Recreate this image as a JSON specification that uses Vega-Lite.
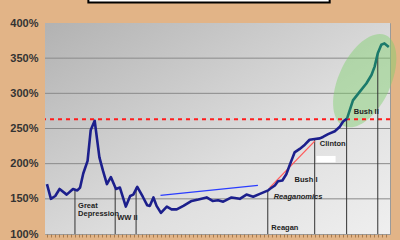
{
  "$schema": "https://vega.github.io/schema/vega-lite/v6.json",
  "width": 345,
  "height": 211,
  "autosize": {"type": "none"},
  "padding": {"left": 45, "top": 23, "right": 10, "bottom": 6},
  "background": "#e2b487",
  "config": {
    "view": {"stroke": "#9a9a9a", "strokeWidth": 1},
    "text": {"font": "Liberation Sans"}
  },
  "datasets": {
    "debt": [
      {"year": 1925.0, "value": 171, "era": "pre"},
      {"year": 1926.0, "value": 150, "era": "pre"},
      {"year": 1927.1, "value": 154, "era": "pre"},
      {"year": 1928.2, "value": 164, "era": "pre"},
      {"year": 1930.0, "value": 156, "era": "pre"},
      {"year": 1931.6, "value": 164, "era": "pre"},
      {"year": 1932.7, "value": 162, "era": "pre"},
      {"year": 1933.4, "value": 166, "era": "pre"},
      {"year": 1934.2, "value": 186, "era": "pre"},
      {"year": 1935.3, "value": 204, "era": "pre"},
      {"year": 1936.1, "value": 248, "era": "pre"},
      {"year": 1937.1, "value": 261, "era": "pre"},
      {"year": 1938.3, "value": 209, "era": "pre"},
      {"year": 1939.2, "value": 190, "era": "pre"},
      {"year": 1940.2, "value": 171, "era": "pre"},
      {"year": 1941.2, "value": 181, "era": "pre"},
      {"year": 1942.5, "value": 164, "era": "pre"},
      {"year": 1943.5, "value": 166, "era": "pre"},
      {"year": 1945.0, "value": 139, "era": "pre"},
      {"year": 1946.1, "value": 154, "era": "pre"},
      {"year": 1946.9, "value": 156, "era": "pre"},
      {"year": 1947.9, "value": 167, "era": "pre"},
      {"year": 1949.3, "value": 153, "era": "pre"},
      {"year": 1950.4, "value": 141, "era": "pre"},
      {"year": 1951.1, "value": 140, "era": "pre"},
      {"year": 1952.0, "value": 152, "era": "pre"},
      {"year": 1952.8, "value": 140, "era": "pre"},
      {"year": 1953.9, "value": 130, "era": "pre"},
      {"year": 1955.4, "value": 139, "era": "pre"},
      {"year": 1956.6, "value": 135, "era": "pre"},
      {"year": 1957.9, "value": 135, "era": "pre"},
      {"year": 1959.6, "value": 140, "era": "pre"},
      {"year": 1961.7, "value": 147, "era": "pre"},
      {"year": 1963.4, "value": 149, "era": "pre"},
      {"year": 1965.5, "value": 152, "era": "pre"},
      {"year": 1967.0, "value": 147, "era": "pre"},
      {"year": 1968.4, "value": 148, "era": "pre"},
      {"year": 1969.7, "value": 146, "era": "pre"},
      {"year": 1971.8, "value": 152, "era": "pre"},
      {"year": 1973.9, "value": 150, "era": "pre"},
      {"year": 1975.6, "value": 156, "era": "pre"},
      {"year": 1977.3, "value": 153, "era": "pre"},
      {"year": 1979.0, "value": 157, "era": "pre"},
      {"year": 1981.1, "value": 162, "era": "pre"},
      {"year": 1981.5, "value": 164, "era": "pre"},
      {"year": 1982.8, "value": 169, "era": "pre"},
      {"year": 1983.6, "value": 175, "era": "pre"},
      {"year": 1984.7, "value": 176, "era": "pre"},
      {"year": 1985.7, "value": 185, "era": "pre"},
      {"year": 1986.7, "value": 200, "era": "pre"},
      {"year": 1987.8, "value": 216, "era": "pre"},
      {"year": 1989.1, "value": 221, "era": "pre"},
      {"year": 1990.4, "value": 227, "era": "pre"},
      {"year": 1991.6, "value": 234, "era": "pre"},
      {"year": 1992.9, "value": 235, "era": "pre"},
      {"year": 1994.2, "value": 236, "era": "pre"},
      {"year": 1995.0, "value": 238, "era": "pre"},
      {"year": 1996.3, "value": 242, "era": "pre"},
      {"year": 1998.0, "value": 246, "era": "pre"},
      {"year": 1999.2, "value": 252, "era": "pre"},
      {"year": 2000.1, "value": 260, "era": "pre"},
      {"year": 2001.1, "value": 264, "era": "pre"},
      {"year": 2001.1, "value": 264, "era": "bush2"},
      {"year": 2002.6, "value": 290, "era": "bush2"},
      {"year": 2004.3, "value": 302, "era": "bush2"},
      {"year": 2006.0, "value": 314, "era": "bush2"},
      {"year": 2007.3, "value": 326, "era": "bush2"},
      {"year": 2008.1, "value": 338, "era": "bush2"},
      {"year": 2008.9, "value": 357, "era": "bush2"},
      {"year": 2009.8, "value": 369, "era": "bush2"},
      {"year": 2010.6, "value": 371, "era": "bush2"},
      {"year": 2011.7, "value": 366, "era": "bush2"}
    ],
    "markers": [
      {"year": 1932.1, "base": 100, "top": 163},
      {"year": 1942.3, "base": 100, "top": 165},
      {"year": 1947.6, "base": 100, "top": 166},
      {"year": 1981.0, "base": 100, "top": 162},
      {"year": 1992.9, "base": 100, "top": 235},
      {"year": 2001.0, "base": 100, "top": 264},
      {"year": 2008.9, "base": 100, "top": 357}
    ],
    "trend": [
      {"year": 1953.8, "value": 155, "line": "postwar"},
      {"year": 1978.5, "value": 169, "line": "postwar"},
      {"year": 1981.5, "value": 166, "line": "reaganomics"},
      {"year": 1992.9, "value": 232, "line": "reaganomics"}
    ],
    "labels": [
      {"year": 1932.9, "value": 140, "text": "Great"},
      {"year": 1932.9, "value": 129, "text": "Depression"},
      {"year": 1942.8, "value": 123, "text": "WW II"},
      {"year": 1981.9, "value": 109, "text": "Reagan"},
      {"year": 1987.8, "value": 177, "text": "Bush I"},
      {"year": 1994.2, "value": 228, "text": "Clinton"},
      {"year": 2002.8, "value": 273, "text": "Bush II"}
    ],
    "italicLabels": [
      {"year": 1982.5, "value": 153, "text": "Reaganomics"}
    ],
    "grid": [{"y": 150}, {"y": 200}, {"y": 250}, {"y": 300}, {"y": 350}]
  },
  "encoding": {
    "x": {"field": "year", "type": "quantitative", "scale": {"domain": [1924.5, 2012], "nice": false, "zero": false},
      "axis": {"title": null, "labels": false, "domain": false, "grid": false, "values": [1925, 1926, 1927, 1928, 1929, 1930, 1931, 1932, 1933, 1934, 1935, 1936, 1937, 1938, 1939, 1940, 1941, 1942, 1943, 1944, 1945, 1946, 1947, 1948, 1949, 1950, 1951, 1952, 1953, 1954, 1955, 1956, 1957, 1958, 1959, 1960, 1961, 1962, 1963, 1964, 1965, 1966, 1967, 1968, 1969, 1970, 1971, 1972, 1973, 1974, 1975, 1976, 1977, 1978, 1979, 1980, 1981, 1982, 1983, 1984, 1985, 1986, 1987, 1988, 1989, 1990, 1991, 1992, 1993, 1994, 1995, 1996, 1997, 1998, 1999, 2000, 2001, 2002, 2003, 2004, 2005, 2006, 2007, 2008, 2009, 2010, 2011], "tickColor": "#a87a4c", "tickSize": 3, "tickWidth": 1, "offset": 0}},
    "y": {"field": "value", "type": "quantitative", "scale": {"domain": [100, 400], "nice": false, "zero": false},
      "axis": {"title": null, "values": [100, 150, 200, 250, 300, 350, 400], "labelExpr": "datum.value + '%'", "labelFont": "Liberation Sans", "labelFontWeight": "bold", "labelFontSize": 11, "labelColor": "#333333", "ticks": false, "domain": false, "grid": false, "labelPadding": 7}}
  },
  "layer": [
    {
      "data": {"values": [{"year": 1924.5, "yearEnd": 2012, "value": 100, "valueEnd": 400}]},
      "mark": {"type": "rect", "fill": {"gradient": "linear", "x1": 0, "y1": 0, "x2": 1, "y2": 1,
        "stops": [{"offset": 0, "color": "#b2b2b2"}, {"offset": 0.6, "color": "#dedede"}, {"offset": 1, "color": "#efefef"}]}},
      "encoding": {"x2": {"field": "yearEnd"}, "y2": {"field": "valueEnd"}}
    },
    {
      "data": {"name": "grid"},
      "mark": {"type": "rule", "color": "#8a8a8a", "strokeWidth": 1},
      "encoding": {"x": null, "y": {"field": "y", "type": "quantitative"}}
    },
    {
      "data": {"values": [{"year": 2005.6, "value": 318}]},
      "mark": {"type": "point", "filled": true, "shape": "M0,-1A0.52,1,0,1,1,0,1A0.52,1,0,1,1,0,-1Z", "size": 10000, "angle": 25, "color": "#7fd06c", "opacity": 0.45, "clip": false}
    },
    {
      "data": {"values": [{"y": 263}]},
      "mark": {"type": "rule", "color": "#ff1a1a", "strokeWidth": 2, "strokeDash": [4, 4]},
      "encoding": {"x": null, "y": {"field": "y", "type": "quantitative"}}
    },
    {
      "data": {"values": [{"year": 1935.5, "yearEnd": 1996.7, "value": 429, "valueEnd": 470}]},
      "mark": {"type": "rect", "fill": "white", "stroke": "black", "strokeWidth": 2, "clip": false},
      "encoding": {"x2": {"field": "yearEnd"}, "y2": {"field": "valueEnd"}}
    },
    {
      "data": {"values": [{"year": 1993.3, "yearEnd": 1998.2, "value": 202, "valueEnd": 211}]},
      "mark": {"type": "rect", "fill": "white"},
      "encoding": {"x2": {"field": "yearEnd"}, "y2": {"field": "valueEnd"}}
    },
    {
      "data": {"name": "markers"},
      "mark": {"type": "rule", "color": "#333333", "strokeWidth": 1},
      "encoding": {
        "y": {"field": "base", "type": "quantitative"},
        "y2": {"field": "top"}
      }
    },
    {
      "data": {"name": "trend"},
      "mark": {"type": "line", "strokeWidth": 1.3},
      "encoding": {
        "color": {"field": "line", "type": "nominal", "scale": {"domain": ["postwar", "reaganomics"], "range": ["#2a3cff", "#ff5a5a"]}, "legend": null}
      }
    },
    {
      "data": {"name": "debt"},
      "mark": {"type": "line", "strokeWidth": 2.6, "strokeJoin": "round"},
      "encoding": {
        "stroke": {"field": "era", "type": "nominal", "scale": {"domain": ["pre", "bush2"], "range": ["#1c1f8c", "#1b7a6b"]}, "legend": null}
      }
    },
    {
      "data": {"name": "labels"},
      "mark": {"type": "text", "align": "left", "baseline": "middle", "fontSize": 7.5, "fontWeight": "bold", "color": "#222222", "font": "Liberation Sans"},
      "encoding": {"text": {"field": "text"}}
    },
    {
      "data": {"name": "italicLabels"},
      "mark": {"type": "text", "align": "left", "baseline": "middle", "fontSize": 7.5, "fontWeight": "bold", "fontStyle": "italic", "color": "#222222", "font": "Liberation Sans"},
      "encoding": {"text": {"field": "text"}}
    }
  ]
}
